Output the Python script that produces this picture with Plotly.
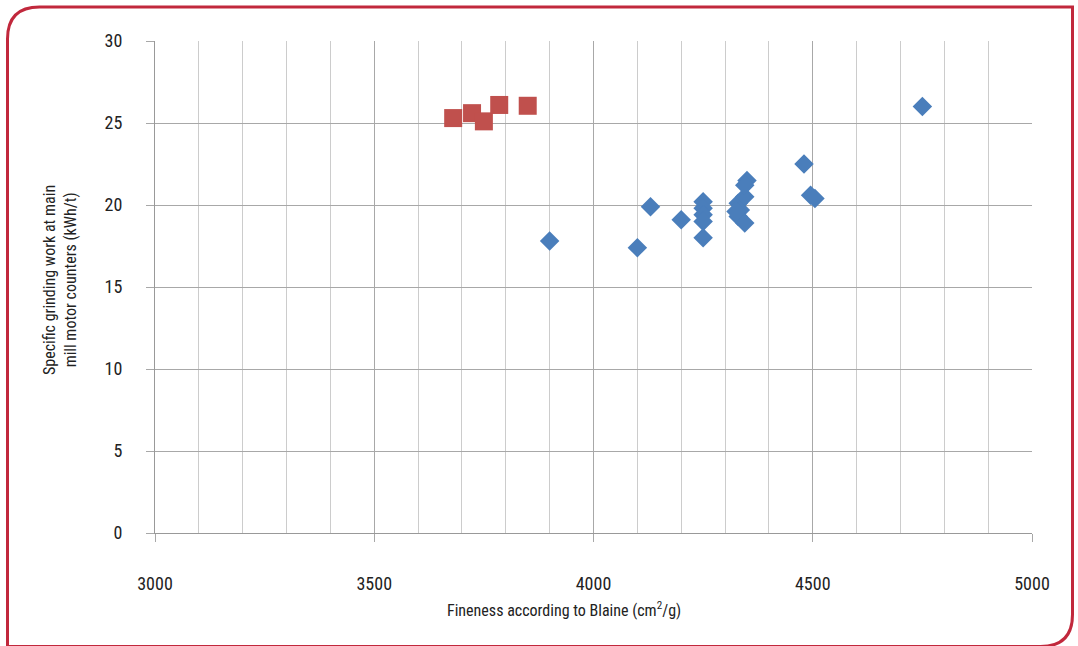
import plotly.graph_objects as go

# Data
blaine_blue = [3900, 4100, 4130, 4200, 4250, 4250, 4250, 4250, 4250,
               4330, 4335, 4345, 4330, 4345, 4325, 4350, 4345,
               4480, 4495, 4505, 4750]
work_blue = [17.8, 17.4, 19.9, 19.1, 20.2, 19.8, 19.4, 19.0, 18.0,
             20.1, 19.7, 20.5, 19.3, 18.9, 19.6, 21.5, 21.2,
             22.5, 20.6, 20.4, 26.0]

blaine_red = [3680, 3723, 3750, 3785, 3850]
work_red = [25.3, 25.6, 25.1, 26.1, 26.05]

x_ticks = [3000, 3500, 4000, 4500, 5000]
y_ticks = [0, 5, 10, 15, 20, 25, 30]

FONT = "Liberation Sans Narrow, Arial Narrow, Roboto Condensed, sans-serif"
W, H = 1078, 646
L, R, T, B = 155, 1032, 41, 533


def px(x):
    return (x - L) / (R - L)


def py(y):
    return (B - y) / (B - T)


fig = go.Figure()
fig.add_trace(go.Scatter(
    x=blaine_blue, y=work_blue, mode="markers",
    marker=dict(symbol="diamond", size=15, color="#4A7EBB"),
    showlegend=False))
fig.add_trace(go.Scatter(
    x=blaine_red, y=work_red, mode="markers",
    marker=dict(symbol="square", size=18, color="#C0504D"),
    showlegend=False))

# rounded frame
x0, x1, y0, y1, r = 7.5, 1072.5, 7, 646.5, 32
path = (f"M {px(x0)},{py(y0 + r)} Q {px(x0)},{py(y0)} {px(x0 + r)},{py(y0)} "
        f"L {px(x1)},{py(y0)} L {px(x1)},{py(y1 - r)} "
        f"Q {px(x1)},{py(y1)} {px(x1 - r)},{py(y1)} L {px(x0)},{py(y1)} Z")
fig.add_shape(type="path", path=path, xref="paper", yref="paper",
              line=dict(color="#C1283C", width=3), layer="above")

fig.update_layout(
    width=W, height=H,
    margin=dict(l=L, r=W - R, t=T, b=H - B),
    paper_bgcolor="white", plot_bgcolor="white",
    font=dict(family=FONT, size=16, color="#222222"),
    xaxis=dict(range=[3000, 5000], tickvals=x_ticks,
               tickfont=dict(size=18),
               showgrid=True, gridcolor="#a8a8a8", gridwidth=1,
               minor=dict(dtick=100, showgrid=True, gridcolor="#cccccc", gridwidth=1),
               showline=True, linecolor="#999999", linewidth=1,
               ticks="outside", ticklen=8, tickcolor="#a8a8a8",
               ticklabelstandoff=26, zeroline=False),
    yaxis=dict(range=[0, 30], tickvals=y_ticks,
               tickfont=dict(size=18),
               showgrid=True, gridcolor="#a8a8a8", gridwidth=1,
               showline=True, linecolor="#999999", linewidth=1,
               ticks="outside", ticklen=8, tickcolor="#a8a8a8",
               ticklabelstandoff=20, zeroline=False),
)

fig.add_annotation(text="Fineness according to Blaine (cm<sup>2</sup>/g)",
                   x=px(564), y=py(609), xref="paper", yref="paper",
                   showarrow=False, xanchor="center", yanchor="middle",
                   font=dict(size=16))
fig.add_annotation(text="Specific grinding work at main<br>mill motor counters (kWh/t)",
                   x=px(60), y=py(280), xref="paper", yref="paper",
                   showarrow=False, xanchor="center", yanchor="middle",
                   textangle=-90, font=dict(size=16))

fig.write_html("out.html",
               config={"displayModeBar": False},
               post_script="document.body.style.margin='0';document.body.style.overflow='hidden';")
